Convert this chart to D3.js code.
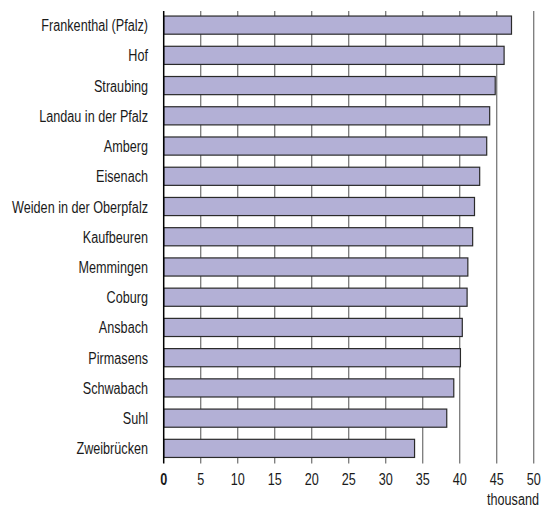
<!DOCTYPE html>
<html><head><meta charset="utf-8">
<script src="https://cdn.jsdelivr.net/npm/d3@7"></script>
<style>body{margin:0;background:#fff}svg{display:block}</style>
</head><body>
<svg id="c" width="544" height="509"></svg>
<script>
const cities = ["Frankenthal (Pfalz)","Hof","Straubing","Landau in der Pfalz","Amberg","Eisenach","Weiden in der Oberpfalz","Kaufbeuren","Memmingen","Coburg","Ansbach","Pirmasens","Schwabach","Suhl","Zweibrücken"];
const values = [47.0,46.0,44.8,44.05,43.65,42.7,42.0,41.75,41.1,41.0,40.35,40.1,39.2,38.25,33.9];
const ticks = [0,5,10,15,20,25,30,35,40,45,50];
const unitLabel = "thousand";

(function(){
const svg = d3.select("#c");
const font = "'Liberation Sans',Arial,sans-serif";
const fs = 16;
const x = d3.scaleLinear().domain([0,50]).range([163.7,533.7]);
const y = d3.scaleBand().domain(cities).range([10,463.5]).paddingInner(0.4).paddingOuter(0.2);
const yTop = 11, yBottom = 463.5;

// measure condensing factor
const probe = svg.append("text").attr("font-family",font).attr("font-size",fs).text("Weiden in der Oberpfalz");
const k = 136 / probe.node().getComputedTextLength();
probe.remove();

svg.append("g").selectAll("line").data(ticks.filter(d=>d>0)).join("line")
  .attr("x1",d=>x(d)).attr("x2",d=>x(d)).attr("y1",yTop).attr("y2",yBottom)
  .attr("stroke","#7a7a7a").attr("stroke-width",1.3);

svg.append("g").selectAll("rect").data(cities).join("rect")
  .attr("x",x(0)).attr("y",d=>y(d))
  .attr("width",(d,i)=>x(values[i])-x(0)).attr("height",y.bandwidth())
  .attr("fill","#b3b0d6").attr("stroke","#2a2a2a").attr("stroke-width",1.2);

svg.append("line").attr("x1",x(0)).attr("x2",x(0)).attr("y1",yTop).attr("y2",yBottom)
  .attr("stroke","#000").attr("stroke-width",1.5);

svg.append("g").selectAll("text").data(cities).join("text")
  .attr("transform",d=>`translate(148,${y(d)+y.bandwidth()/2+6}) scale(${k},1)`)
  .attr("text-anchor","end").attr("font-family",font).attr("font-size",fs).attr("fill","#1a1a1a")
  .text(d=>d);

svg.append("g").selectAll("text").data(ticks).join("text")
  .attr("transform",d=>`translate(${x(d)},485) scale(${k},1)`).attr("text-anchor","middle")
  .attr("font-family",font).attr("font-size",fs).attr("fill","#1a1a1a")
  .attr("font-weight",d=>d===0?"bold":"normal")
  .text(d=>d);

svg.append("text").attr("transform",`translate(539,505) scale(${k},1)`).attr("text-anchor","end")
  .attr("font-family",font).attr("font-size",fs).attr("fill","#1a1a1a").text(unitLabel);
})();
</script>
</body></html>
